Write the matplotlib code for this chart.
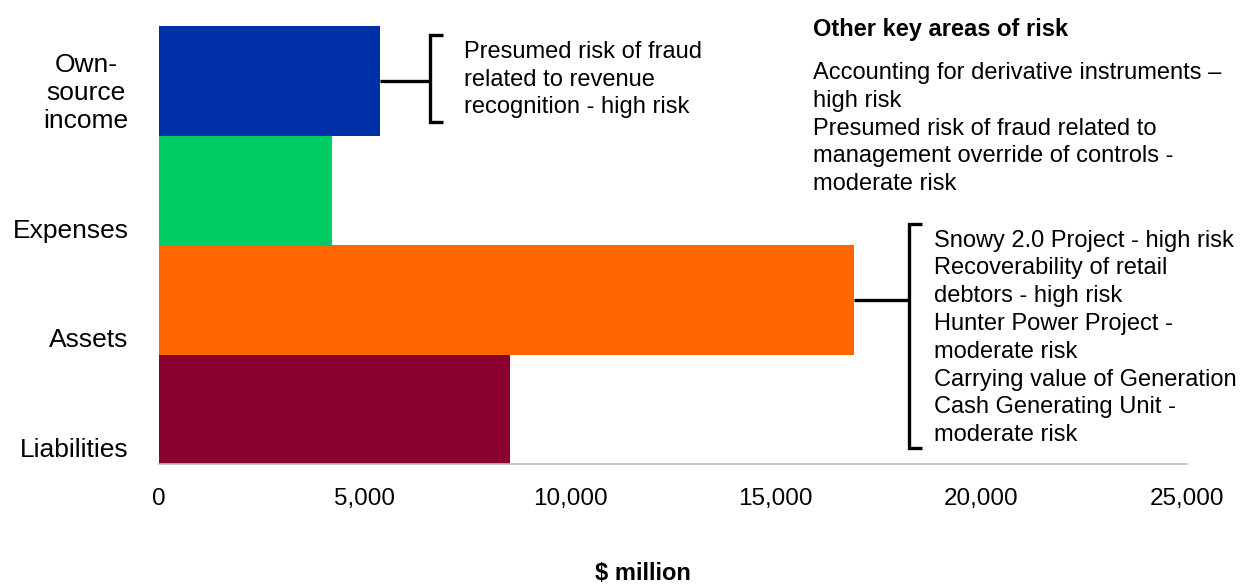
import matplotlib
matplotlib.use("Agg")
import matplotlib.pyplot as plt
from matplotlib.ticker import FuncFormatter

plt.rcParams["font.family"] = ["Liberation Sans", "DejaVu Sans"]

# Financial statement line items ($ million)
categories = ["Own-\nsource\nincome", "Expenses", "Assets", "Liabilities"]
values = [5380, 4210, 16890, 8530]
colors = ["#0030A8", "#00CC66", "#FF6600", "#8A002E"]
xticks = [0, 5000, 10000, 15000, 20000, 25000]

income_risks = "Presumed risk of fraud\nrelated to revenue\nrecognition - high risk"
asset_risks = ("Snowy 2.0 Project - high risk\n"
               "Recoverability of retail\n"
               "debtors - high risk\n"
               "Hunter Power Project -\n"
               "moderate risk\n"
               "Carrying value of Generation\n"
               "Cash Generating Unit -\n"
               "moderate risk")
other_title = "Other key areas of risk"
other_risks = ("Accounting for derivative instruments \u2013\n"
               "high risk\n"
               "Presumed risk of fraud related to\n"
               "management override of controls -\n"
               "moderate risk")

W, H = 1243, 584
fig = plt.figure(figsize=(W / 100, H / 100), dpi=100)
ax = fig.add_axes([159 / W, 1 - 464 / H, (1187 - 159) / W, (464 - 26) / H])

pos = list(range(len(categories)))
ax.barh(pos, values, height=1.0, color=colors, linewidth=0)
ax.set_ylim(len(categories) - 0.5, -0.5)
ax.set_xlim(0, 25000)

# axes styling
for side in ["top", "right", "left"]:
    ax.spines[side].set_visible(False)
ax.spines["bottom"].set_color("#BFBFBF")
ax.spines["bottom"].set_linewidth(1.2)
ax.set_xticks(xticks)
ax.xaxis.set_major_formatter(FuncFormatter(lambda v, p: f"{v:,.0f}"))
ax.tick_params(axis="x", length=0, pad=17, labelsize=17.5)

# category labels sit near the bottom of each bar
ax.set_yticks([p + 0.436 for p in pos])
ax.set_yticklabels(categories, fontsize=19)
ax.tick_params(axis="y", length=0, pad=22)
for lab in ax.get_yticklabels():
    lab.set_verticalalignment("baseline")
    lab.set_multialignment("center")
    lab.set_linespacing(1.22)

fig.text(643 / W, 1 - 573 / H, "$ million", ha="center", va="center",
         fontsize=17, fontweight="bold")

bk = dict(color="black", lw=2.4, clip_on=False, solid_capstyle="butt",
          solid_joinstyle="miter")

def bracket(bar_idx, x_brk, y_top, y_bot, serif=310):
    # connector from the end of the bar to the bracket
    ax.plot([values[bar_idx], x_brk], [pos[bar_idx], pos[bar_idx]], **bk)
    ax.plot([x_brk + serif, x_brk, x_brk, x_brk + serif],
            [y_top, y_top, y_bot, y_bot], **bk)

LS = 1.34

bracket(0, 6600, -0.418, 0.377)
ax.text(7425, pos[0] - 0.01, income_risks, fontsize=17, va="center", ha="left",
        linespacing=LS, clip_on=False)

bracket(2, 18240, 1.308, 3.354)
ax.text(18840, 1.36, asset_risks, fontsize=17, va="top", ha="left",
        linespacing=LS, clip_on=False)

fig.text(813 / W, 1 - 36 / H, other_title, fontsize=17, fontweight="bold",
         va="baseline", ha="left")
fig.text(813 / W, 1 - 62 / H, other_risks, fontsize=17, va="top", ha="left",
         linespacing=LS)

fig.savefig("out.png", dpi=100)
